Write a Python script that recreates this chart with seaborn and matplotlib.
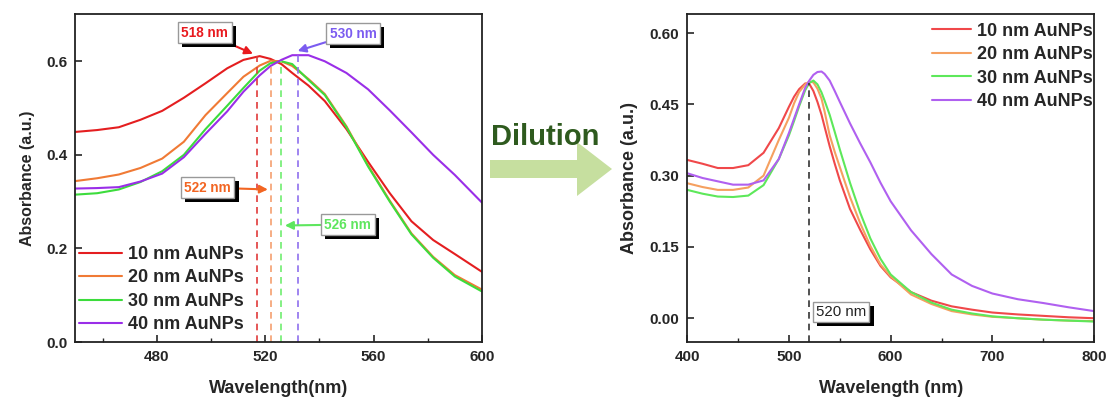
import numpy as np
import pandas as pd
import matplotlib
matplotlib.use("Agg")
import matplotlib.pyplot as plt
import matplotlib.patheffects as pe
from matplotlib.patches import FancyArrow
from matplotlib.ticker import MultipleLocator
import seaborn as sns

# ---- data: before dilution (left panel) ----
wl_a = [450, 458, 466, 474, 482, 490, 498, 506, 512, 518, 522, 526, 530,
        536, 542, 550, 558, 566, 574, 582, 590, 600]
a10 = [0.449, 0.453, 0.459, 0.475, 0.494, 0.522, 0.553, 0.585, 0.603, 0.611, 0.605, 0.594, 0.575,
       0.548, 0.515, 0.455, 0.385, 0.318, 0.258, 0.218, 0.188, 0.150]
a20 = [0.344, 0.350, 0.358, 0.372, 0.392, 0.428, 0.485, 0.532, 0.567, 0.591, 0.601, 0.600, 0.590,
       0.562, 0.530, 0.461, 0.377, 0.302, 0.232, 0.182, 0.143, 0.112]
a30 = [0.315, 0.318, 0.326, 0.342, 0.365, 0.400, 0.455, 0.505, 0.543, 0.580, 0.596, 0.600, 0.594,
       0.560, 0.528, 0.459, 0.375, 0.300, 0.230, 0.180, 0.140, 0.108]
a40 = [0.328, 0.329, 0.331, 0.343, 0.360, 0.395, 0.445, 0.493, 0.535, 0.570, 0.590, 0.603, 0.613,
       0.613, 0.600, 0.575, 0.540, 0.495, 0.448, 0.400, 0.357, 0.298]
peak_nm = [517, 522, 526, 532]
peak_abs = [0.611, 0.601, 0.600, 0.615]
peak_text = ["518 nm", "522 nm", "526 nm", "530 nm"]

# ---- data: after dilution (right panel) ----
wl_b = [400, 415, 430, 445, 460, 475, 490, 500, 505, 510, 516, 520, 524, 528, 532, 535, 540, 545,
        550, 560, 570, 580, 590, 600, 620, 640, 660, 680, 700, 725, 750, 775, 800]
b10 = [0.333, 0.325, 0.316, 0.316, 0.322, 0.348, 0.400, 0.445, 0.466, 0.482, 0.494, 0.493, 0.478, 0.455, 0.428, 0.403, 0.362, 0.325,
       0.290, 0.230, 0.186, 0.145, 0.110, 0.086, 0.055, 0.037, 0.025, 0.018, 0.012, 0.008, 0.005, 0.002, 0.000]
b20 = [0.284, 0.276, 0.270, 0.270, 0.275, 0.300, 0.375, 0.422, 0.452, 0.476, 0.492, 0.498, 0.496, 0.483, 0.462, 0.435, 0.385, 0.350,
       0.318, 0.255, 0.200, 0.152, 0.113, 0.088, 0.050, 0.030, 0.015, 0.008, 0.003, 0.000, -0.003, -0.005, -0.006]
b30 = [0.270, 0.262, 0.256, 0.255, 0.258, 0.280, 0.335, 0.385, 0.415, 0.446, 0.480, 0.495, 0.500, 0.492, 0.475, 0.458, 0.428, 0.392,
       0.355, 0.285, 0.222, 0.168, 0.125, 0.092, 0.055, 0.033, 0.018, 0.010, 0.004, 0.000, -0.003, -0.005, -0.007]
b40 = [0.305, 0.295, 0.288, 0.281, 0.281, 0.290, 0.335, 0.390, 0.420, 0.450, 0.485, 0.500, 0.512, 0.518, 0.519, 0.514, 0.500, 0.478,
       0.455, 0.410, 0.368, 0.328, 0.285, 0.246, 0.185, 0.135, 0.092, 0.068, 0.052, 0.040, 0.032, 0.023, 0.015]
dil_peak_nm = 520
dil_peak_abs = 0.494

labels = ["10 nm AuNPs", "20 nm AuNPs", "30 nm AuNPs", "40 nm AuNPs"]
cols_a = ["#e41e20", "#f07a35", "#3cdc3c", "#9a2ee8"]
cols_b = ["#f0484a", "#f5a060", "#5de85a", "#b060f0"]
dash_cols = ["#e03a3a", "#f5a070", "#70ee70", "#8f70ee"]
txt_cols = ["#e8191e", "#f26522", "#5ee65e", "#7b5cf0"]

sns.set_style("ticks")
plt.rcParams["font.family"] = ["Liberation Sans", "DejaVu Sans"]
plt.rcParams["font.weight"] = "bold"
plt.rcParams["axes.labelweight"] = "bold"
plt.rcParams["xtick.direction"] = "in"
plt.rcParams["ytick.direction"] = "in"

fig = plt.figure(figsize=(11.13, 3.98), dpi=100)
ax1 = fig.add_axes([0.0678, 0.1407, 0.3652, 0.8229])
ax2 = fig.add_axes([0.6175, 0.1407, 0.3655, 0.8241])

for ys, c, lab in zip([a10, a20, a30, a40], cols_a, labels):
    sns.lineplot(x=wl_a, y=ys, ax=ax1, color=c, lw=1.5, label=lab)
for ys, c, lab in zip([b10, b20, b30, b40], cols_b, labels):
    sns.lineplot(x=wl_b, y=ys, ax=ax2, color=c, lw=1.5, label=lab)

# peak markers (left)
for x, y, c in zip(peak_nm, peak_abs, dash_cols):
    ax1.vlines(x, 0, y, colors=c, linestyles=(0, (4, 3)), lw=1.2)

shadow = [pe.SimplePatchShadow(offset=(3, -3), shadow_rgbFace="black", alpha=1), pe.Normal()]
ann_pos = [(497.7, 0.661), (498.8, 0.330), (550.5, 0.251), (552.4, 0.659)]
ann_tip = [(515.5, 0.616), (521.0, 0.326), (527.3, 0.249), (532.0, 0.622)]
for t, p, tip, c in zip(peak_text, ann_pos, ann_tip, txt_cols):
    a = ax1.annotate(t, xy=tip, xytext=p, ha="center", va="center", color=c,
                     fontsize=9.8, fontweight="bold",
                     bbox=dict(boxstyle="square,pad=0.25", fc="white", ec="#999999", lw=1),
                     arrowprops=dict(arrowstyle="-|>", color=c, lw=1.5, mutation_scale=12,
                                     shrinkA=0, shrinkB=0))
    a.get_bbox_patch().set_path_effects(shadow)

ax1.set_xlim(450, 600)
ax1.set_ylim(0, 0.7)
ax1.xaxis.set_major_locator(MultipleLocator(40))
ax1.xaxis.set_minor_locator(MultipleLocator(20))
ax1.yaxis.set_major_locator(MultipleLocator(0.2))
ax1.set_xlabel("Wavelength(nm)", fontsize=13, labelpad=11)
ax1.set_ylabel("Absorbance (a.u.)", fontsize=11.5, labelpad=8)
ax1.legend(loc="lower left", bbox_to_anchor=(0.0, 0.015), frameon=False, handlelength=2.4,
           labelspacing=0.36, borderaxespad=0.1, borderpad=0.1, handletextpad=0.3,
           prop=dict(weight="bold", size=13))

# right panel
ax2.vlines(dil_peak_nm, -0.05, dil_peak_abs, colors="#333333", linestyles=(0, (4, 3)), lw=1.2)
t2 = ax2.text(551.5, 0.013, "520 nm", ha="center", va="center", fontsize=10.8, fontweight="normal",
              color="#222222", bbox=dict(boxstyle="square,pad=0.2", fc="white", ec="#999999", lw=1))
t2.get_bbox_patch().set_path_effects(shadow)
ax2.set_xlim(400, 800)
ax2.set_ylim(-0.05, 0.64)
ax2.xaxis.set_major_locator(MultipleLocator(100))
ax2.xaxis.set_minor_locator(MultipleLocator(50))
ax2.yaxis.set_major_locator(MultipleLocator(0.15))
ax2.yaxis.set_major_formatter(matplotlib.ticker.FormatStrFormatter("%.2f"))
ax2.set_xlabel("Wavelength (nm)", fontsize=13, labelpad=11)
ax2.set_ylabel("Absorbance (a.u.)", fontsize=13, labelpad=8)
ax2.legend(loc="upper right", bbox_to_anchor=(1.005, 0.985), frameon=False, handlelength=2.2,
           labelspacing=0.36, borderaxespad=0.0, borderpad=0.2, handletextpad=0.3,
           prop=dict(weight="bold", size=13))

for ax in (ax1, ax2):
    for s in ax.spines.values():
        s.set_linewidth(1.3)
        s.set_color("#222222")
    ax.tick_params(which="major", length=5, width=1.2, labelsize=11, pad=6)
    ax.tick_params(which="minor", length=3, width=1.0)
    for lab in ax.get_xticklabels() + ax.get_yticklabels():
        lab.set_fontweight("bold")

# dilution arrow between panels
fig.add_artist(FancyArrow(4.90, 2.29, 1.22, 0, width=0.18, head_width=0.54, head_length=0.35,
                          length_includes_head=True, color="#c6df9f", lw=0,
                          transform=fig.dpi_scale_trans))
fig.text(0.49, 0.656, "Dilution", ha="center", va="center", fontsize=21, fontweight="bold",
         color="#2e5a1e")

fig.savefig("out.png", dpi=100)
